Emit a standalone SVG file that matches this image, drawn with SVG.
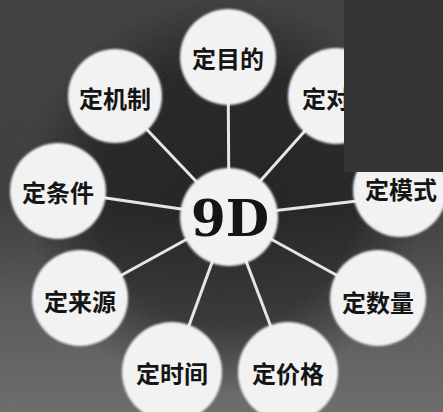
<svg xmlns="http://www.w3.org/2000/svg" width="443" height="412" viewBox="0 0 443 412">
<defs>
<linearGradient id="bgl" x1="0" y1="0" x2="0" y2="1">
<stop offset="0" stop-color="#3f3f3f"/>
<stop offset="0.5" stop-color="#3c3c3c"/>
<stop offset="0.75" stop-color="#585858"/>
<stop offset="1" stop-color="#6a6a6a"/>
</linearGradient>
<radialGradient id="dark" gradientUnits="userSpaceOnUse" cx="225" cy="195" r="200">
<stop offset="0" stop-color="#000" stop-opacity="0.45"/>
<stop offset="0.65" stop-color="#000" stop-opacity="0.4"/>
<stop offset="1" stop-color="#000" stop-opacity="0"/>
</radialGradient>
<filter id="grain" x="0" y="0" width="100%" height="100%">
<feTurbulence type="fractalNoise" baseFrequency="0.9" numOctaves="2" seed="3" result="n"/>
<feColorMatrix in="n" type="matrix" values="0 0 0 0 1  0 0 0 0 1  0 0 0 0 1  0 0 0 0.5 -0.1" result="w"/>
<feComposite in="w" in2="SourceGraphic" operator="in"/>
</filter>
<filter id="soft" x="-10%" y="-10%" width="120%" height="120%">
<feGaussianBlur stdDeviation="0.8"/>
</filter>
</defs>
<style>
.node circle{fill:#f2f2f2;filter:url(#soft)}
.node text{font-family:"Noto Sans CJK SC","Noto Sans",sans-serif;font-weight:bold;font-size:24px;fill:#151515;text-anchor:middle;dominant-baseline:central}
.conn line{stroke:#e6e6e6;stroke-width:3}
</style>
<rect width="443" height="412" fill="url(#bgl)"/>
<rect width="443" height="412" fill="url(#dark)"/>
<rect width="443" height="412" fill="#fff" filter="url(#grain)" opacity="0.15"/>
<g id="connectors" class="conn">
<line x1="229" y1="216" x2="228" y2="57"/>
<line x1="229" y1="216" x2="115" y2="96"/>
<line x1="229" y1="216" x2="336" y2="96"/>
<line x1="229" y1="216" x2="58" y2="191"/>
<line x1="229" y1="216" x2="400" y2="196"/>
<line x1="229" y1="216" x2="80" y2="298"/>
<line x1="229" y1="216" x2="378" y2="298"/>
<line x1="229" y1="216" x2="172" y2="372"/>
<line x1="229" y1="216" x2="288" y2="372"/>
</g>
<g id="n-mudi" class="node"><circle cx="228" cy="57" r="48"/><text x="228" y="57">定目的</text></g>
<g id="n-jizhi" class="node"><circle cx="115" cy="96" r="47"/><text x="115" y="97">定机制</text></g>
<g id="n-duixiang" class="node"><circle cx="336" cy="96" r="48"/><text x="302" y="97" style="text-anchor:start">定对</text></g>
<g id="n-tiaojian" class="node"><circle cx="58" cy="191" r="48"/><text x="58" y="191">定条件</text></g>
<g id="n-moshi" class="node"><circle cx="400" cy="190" r="47"/><text x="401" y="188">定模式</text></g>
<g id="n-laiyuan" class="node"><circle cx="80" cy="298" r="48"/><text x="80" y="300">定来源</text></g>
<g id="n-shuliang" class="node"><circle cx="378" cy="298" r="48"/><text x="378" y="301">定数量</text></g>
<g id="n-shijian" class="node"><circle cx="172" cy="372" r="50"/><text x="172" y="372">定时间</text></g>
<g id="n-jiage" class="node"><circle cx="288" cy="372" r="50"/><text x="288" y="372">定价格</text></g>
<g id="n-center" class="node"><circle cx="229" cy="217" r="49"/><text x="230" y="218" style="font-family:'DejaVu Serif',serif;font-size:50px;font-weight:bold">9D</text></g>
<rect x="344" y="0" width="99" height="172" fill="#303030"/>
<rect x="344" y="0" width="99" height="172" fill="#fff" filter="url(#grain)" opacity="0.15"/>
</svg>
